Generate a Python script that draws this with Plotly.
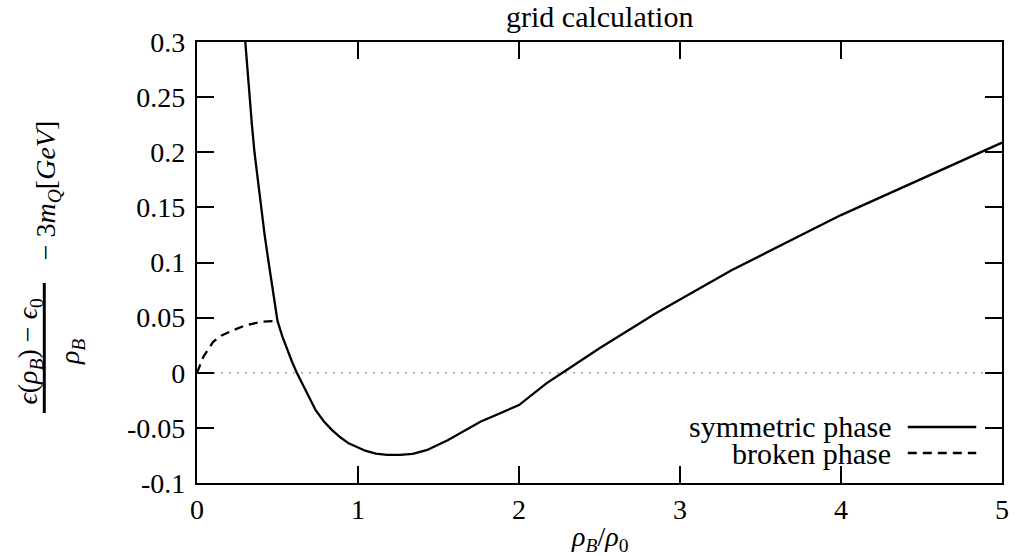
import plotly.graph_objects as go

# ---- data ----
sym_x = [0.300, 0.313, 0.326, 0.341, 0.357, 0.377, 0.398, 0.420, 0.445, 0.470,
         0.500, 0.530, 0.560, 0.590, 0.620, 0.680, 0.737, 0.790,
         0.839, 0.890, 0.942, 1.045, 1.110, 1.180, 1.260, 1.340, 1.430, 1.560, 1.760,
         2.000, 2.170, 2.270, 2.500, 2.850, 3.000, 3.320, 4.000, 5.000]
sym_y = [0.300, 0.275, 0.250, 0.225, 0.200, 0.175, 0.150, 0.125, 0.100, 0.074,
         0.047, 0.033, 0.021, 0.010, 0.000, -0.018, -0.034, -0.0445,
         -0.052, -0.0585, -0.064, -0.0707, -0.0733, -0.0745, -0.0744, -0.0735, -0.070, -0.061, -0.0444,
         -0.0293, -0.0096, 0.000, 0.0222, 0.0539, 0.0665, 0.0930, 0.1430, 0.2087]

brk_x = [0.0, 0.04, 0.10, 0.15, 0.20, 0.30, 0.40, 0.50]
brk_y = [0.0, 0.0146, 0.028, 0.0335, 0.037, 0.043, 0.0462, 0.0470]

zero_x = [0, 5]
zero_y = [0, 0]

x_ticks = [0, 1, 2, 3, 4, 5]
y_ticks = [-0.1, -0.05, 0, 0.05, 0.1, 0.15, 0.2, 0.25, 0.3]
y_ticktext = ["-0.1", "-0.05", "0", "0.05", "0.1", "0.15", "0.2", "0.25", "0.3"]

FONT = "Liberation Serif, Times New Roman, DejaVu Serif, serif"
FS = 28
DASH = "9px,6px"

fig = go.Figure()
fig.add_trace(go.Scatter(x=zero_x, y=zero_y, mode="lines",
                         line=dict(color="#a0a0a0", width=1.6, dash="2px,6px"),
                         showlegend=False, hoverinfo="skip"))
fig.add_trace(go.Scatter(x=sym_x, y=sym_y, mode="lines",
                         line=dict(color="black", width=2.3),
                         name="symmetric phase", showlegend=False))
fig.add_trace(go.Scatter(x=brk_x, y=brk_y, mode="lines",
                         line=dict(color="black", width=2.3, dash=DASH),
                         name="broken phase", showlegend=False))

axis_common = dict(showline=True, linecolor="black", linewidth=2.3, mirror="ticks",
                   ticks="inside", ticklen=17, tickwidth=2.3, tickcolor="black",
                   showgrid=False, zeroline=False,
                   tickfont=dict(family=FONT, size=FS, color="black"))

fig.update_layout(
    width=1016, height=556,
    margin=dict(l=197, r=7, t=42, b=73),
    paper_bgcolor="white", plot_bgcolor="white",
    font=dict(family=FONT, size=FS, color="black"),
    xaxis=dict(range=[0, 5], tickvals=x_ticks, ticktext=[str(v) for v in x_ticks], **axis_common),
    yaxis=dict(range=[-0.1, 0.3], tickvals=y_ticks, ticktext=y_ticktext,
               ticklabelstandoff=4, **axis_common),
    showlegend=False,
)

ann = []
# title
ann.append(dict(text="grid calculation", xref="paper", yref="paper", x=0.5, y=1.0,
                yshift=26, showarrow=False, xanchor="center", yanchor="middle",
                font=dict(family=FONT, size=30)))
# x title
ann.append(dict(text="<i>ρ</i><sub><i>B</i></sub>/<i>ρ</i><sub>0</sub>", xref="paper", yref="paper",
                x=0.5, y=0, yshift=-55, showarrow=False, xanchor="center", yanchor="middle",
                font=dict(family=FONT, size=FS)))
# y title (fraction)
ann.append(dict(text="<i>ϵ</i>(<i>ρ</i><sub><i>B</i></sub>) − <i>ϵ</i><sub>0</sub>", xref="paper", yref="paper",
                x=-0.2081, y=0.2993, textangle=-90, showarrow=False, xanchor="center", yanchor="middle",
                font=dict(family=FONT, size=FS)))
ann.append(dict(text="<i>ρ</i><sub><i>B</i></sub>", xref="paper", yref="paper",
                x=-0.1564, y=0.297, textangle=-90, showarrow=False, xanchor="center", yanchor="middle",
                font=dict(family=FONT, size=FS)))
ann.append(dict(text="− 3<i>m</i><sub><i>Q</i></sub>[<i>GeV</i>]", xref="paper", yref="paper",
                x=-0.1847, y=0.6644, textangle=-90, showarrow=False, xanchor="center", yanchor="middle",
                font=dict(family=FONT, size=FS)))
# legend text
ann.append(dict(text="symmetric phase", xref="paper", yref="paper", x=0.8645, y=0.127,
                showarrow=False, xanchor="right", yanchor="middle", font=dict(family=FONT, size=30)))
ann.append(dict(text="broken phase", xref="paper", yref="paper", x=0.8645, y=0.068,
                showarrow=False, xanchor="right", yanchor="middle", font=dict(family=FONT, size=30)))
fig.update_layout(annotations=ann)

shapes = [
    dict(type="line", xref="paper", yref="paper", x0=-0.1897, x1=-0.1897, y0=0.1587, y1=0.4535,
         line=dict(color="black", width=3)),
    dict(type="line", xref="paper", yref="paper", x0=0.883, x1=0.968, y0=0.127, y1=0.127,
         line=dict(color="black", width=2.3)),
    dict(type="line", xref="paper", yref="paper", x0=0.883, x1=0.968, y0=0.068, y1=0.068,
         line=dict(color="black", width=2.3, dash=DASH)),
]
fig.update_layout(shapes=shapes)

fig.write_html("out.html", config={"displayModeBar": False},
               post_script="document.body.style.margin='0';document.body.style.overflow='hidden';")
